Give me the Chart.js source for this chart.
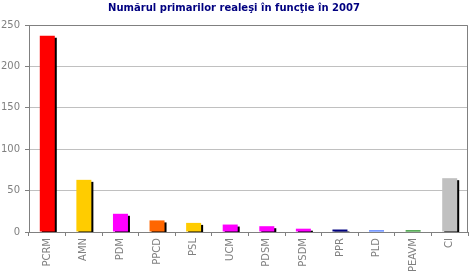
<!DOCTYPE html>
<html lang="ro">
<head>
    <meta charset="UTF-8">
    <title>Numărul primarilor realeşi</title>
    <style>
        body {
            margin: 0;
            padding: 0;
            background: #ffffff;
        }

        .chart-box {
            width: 470px;
            height: 275px;
        }
    </style>
    <script src="https://cdn.jsdelivr.net/npm/chart.js"></script>
</head>
<body>
    <div class="chart-box">
        <canvas id="mayorsChart" width="470" height="275"></canvas>
    </div>

    <script>
        // date
        const parties = ['PCRM', 'AMN', 'PDM', 'PPCD', 'PSL', 'UCM', 'PDSM', 'PSDM', 'PPR', 'PLD', 'PEAVM', 'CI'];
        const mayors = [237, 63, 22, 14, 11, 9, 7, 4, 3, 2, 2, 65];
        const yTicks = [0, 50, 100, 150, 200, 250];

        const partyColors = ['#ff0000', '#ffcc00', '#ff00ff', '#ff6600', '#ffcc00', '#ff00ff',
            '#ff00ff', '#ff00ff', '#000080', '#3366ff', '#008000', '#c0c0c0'];

        const axisGray = '#808080';
        const font = { family: 'DejaVu Sans', size: 10 };

        // umbra neagra a barelor (2px dreapta, 2px jos)
        const barShadow = {
            id: 'barShadow',
            beforeDatasetsDraw(chart) {
                const ctx = chart.ctx;
                ctx.save();
                ctx.shadowColor = '#000000';
                ctx.shadowOffsetX = 2;
                ctx.shadowOffsetY = 2;
                ctx.shadowBlur = 0;
            },
            afterDatasetsDraw(chart) {
                chart.ctx.restore();
            }
        };

        // chenarul zonei de desen
        const plotFrame = {
            id: 'plotFrame',
            afterDraw(chart) {
                const a = chart.chartArea;
                const ctx = chart.ctx;
                ctx.save();
                ctx.strokeStyle = axisGray;
                ctx.lineWidth = 1;
                ctx.beginPath();
                ctx.moveTo(a.left + 0.5, a.top + 0.5);
                ctx.lineTo(a.right - 0.5, a.top + 0.5);
                ctx.lineTo(a.right - 0.5, a.bottom);
                ctx.stroke();
                ctx.restore();
            }
        };

        new Chart(document.getElementById('mayorsChart'), {
            type: 'bar',
            data: {
                labels: parties,
                datasets: [{
                    label: 'Primari realeşi',
                    data: mayors,
                    backgroundColor: partyColors,
                    borderWidth: 0,
                    barPercentage: 0.41,
                    categoryPercentage: 1
                }]
            },
            options: {
                responsive: false,
                animation: false,
                layout: { padding: { left: 0, right: 2, top: 0, bottom: 0 } },
                plugins: {
                    legend: { display: false },
                    tooltip: { enabled: false },
                    title: {
                        display: true,
                        text: 'Numărul primarilor realeşi în funcţie în 2007',
                        color: '#000080',
                        font: { family: 'DejaVu Sans', size: 10, weight: 'bold', lineHeight: 1.2 },
                        padding: { top: 2, bottom: 11 }
                    }
                },
                scales: {
                    x: {
                        grid: {
                            offset: true,
                            drawOnChartArea: false,
                            tickLength: 4,
                            color: axisGray
                        },
                        border: { color: axisGray },
                        ticks: {
                            color: axisGray,
                            font: font,
                            minRotation: 90,
                            maxRotation: 90,
                            padding: 2,
                            autoSkip: false
                        },
                        afterFit(scale) { scale.height = 43; }
                    },
                    y: {
                        min: 0,
                        max: 250,
                        afterBuildTicks(scale) {
                            scale.ticks = yTicks.map(v => ({ value: v }));
                        },
                        grid: {
                            color: '#c0c0c0',
                            tickColor: axisGray,
                            tickLength: 4
                        },
                        border: { color: axisGray },
                        ticks: {
                            color: axisGray,
                            font: font,
                            padding: 5
                        },
                        afterFit(scale) { scale.width = 29; }
                    }
                }
            },
            plugins: [barShadow, plotFrame]
        });
    </script>
</body>
</html>
